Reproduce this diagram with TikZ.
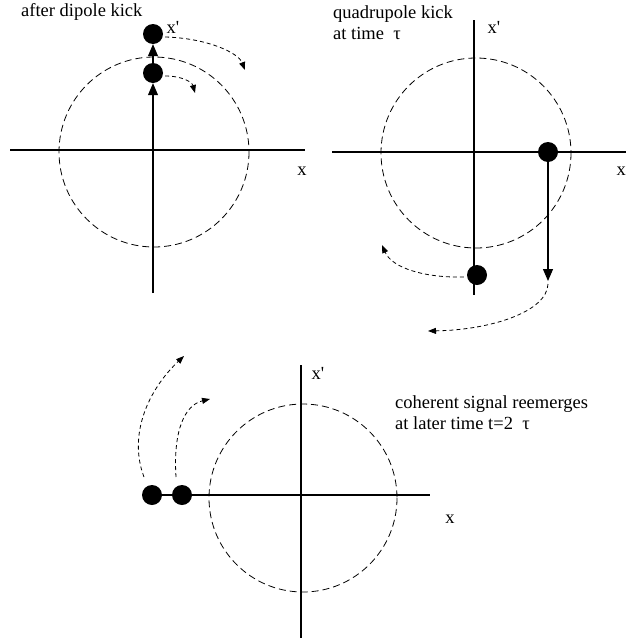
\documentclass[tikz,border=0pt]{standalone}
\usepackage{fontspec}
\setmainfont{Liberation Serif}
\usetikzlibrary{arrows.meta}
\begin{document}
\begin{tikzpicture}[x=1pt,y=-1pt,
  axis/.style={line width=1.1pt},
  orbit/.style={line width=0.8pt,dash pattern=on 7pt off 4pt},
  dot/.style={circle,fill=black,inner sep=0pt,minimum size=20pt},
  kick/.style={line width=1.1pt,-{Triangle[length=12pt,width=10pt]}},
  swirl/.style={line width=0.8pt,dash pattern=on 4pt off 3pt,-{Triangle[length=8pt,width=6pt]}},
  lbl/.style={font=\fontsize{18.5}{22}\selectfont,inner sep=0pt},
  txt/.style={font=\fontsize{18.5}{22}\selectfont,inner sep=0pt,anchor=west,align=left}]
\useasboundingbox (0,0) rectangle (626,643);

% ---------- top-left panel ----------
\coordinate (tlL) at (10,150);
\coordinate (tlR) at (305,150);
\coordinate (tlB) at (153,293);
\draw[axis] (tlL) -- (tlR);
\draw[orbit] (154,152) circle (95);
\node[dot] (tlA) at (153,34) {};
\node[dot] (tlD) at (153,73) {};
\draw[kick] (tlB) -- (tlD.south);
\draw[kick] (tlD.north) -- (tlA.south);
\coordinate (tlA1) at (245,70);
\coordinate (tlD1) at (195,93);
\draw[swirl] (tlA.east) ++(2,3) .. controls (205,38) and (238,52) .. (tlA1);
\draw[swirl] (tlD.east) ++(2,3) .. controls (182,76) and (192,82) .. (tlD1);
\node[lbl] (tlxp) at (173,27) {x\textquotesingle};
\node[lbl] (tlx) at (302,171) {x};
\node[txt] (tlt) at (21,12) {after dipole kick};

% ---------- top-right panel ----------
\coordinate (trL) at (332,152);
\coordinate (trR) at (626,152);
\coordinate (trT) at (474,20);
\coordinate (trB) at (474,295);
\draw[axis] (trL) -- (trR);
\draw[axis] (trT) -- (trB);
\draw[orbit] (476,153) circle (95);
\node[dot] (trA) at (548,152) {};
\node[dot] (trD) at (477,275) {};
\coordinate (trK) at (548,281);
\draw[kick] (trA.south) -- (trK);
\coordinate (trD1) at (382,245);
\coordinate (trK1) at (428,331);
\draw[swirl] (trD.west) ++(-3,2) .. controls (425,278) and (392,268) .. (trD1);
\draw[swirl] (548,284) .. controls (547,312) and (490,330) .. (trK1);
\node[lbl] (trxp) at (494,27) {x\textquotesingle};
\node[lbl,anchor=east] (trx) at (626,171) {x};
\node[txt] (trt) at (333,23) {quadrupole kick\\[-1pt]at time\ \ τ};

% ---------- bottom panel ----------
\node[dot] (bA) at (152,495) {};
\node[dot] (bD) at (182,495) {};
\coordinate (bR) at (430,495);
\coordinate (bT) at (301,365);
\coordinate (bB) at (301,638);
\draw[axis] (bA) -- (bR);
\draw[axis] (bT) -- (bB);
\draw[orbit] (303,498) circle (94);
\coordinate (bA1) at (184,356);
\coordinate (bD1) at (210,399);
\draw[swirl] (144,477) .. controls (128,435) and (148,390) .. (bA1);
\draw[swirl] (176,477) .. controls (173,430) and (185,405) .. (bD1);
\node[lbl] (bxp) at (318,373) {x\textquotesingle};
\node[lbl] (bx) at (450,519) {x};
\node[txt] (bt) at (395,413) {coherent signal reemerges\\[-1pt]at later time t=2\ \ τ};
\end{tikzpicture}
\end{document}
